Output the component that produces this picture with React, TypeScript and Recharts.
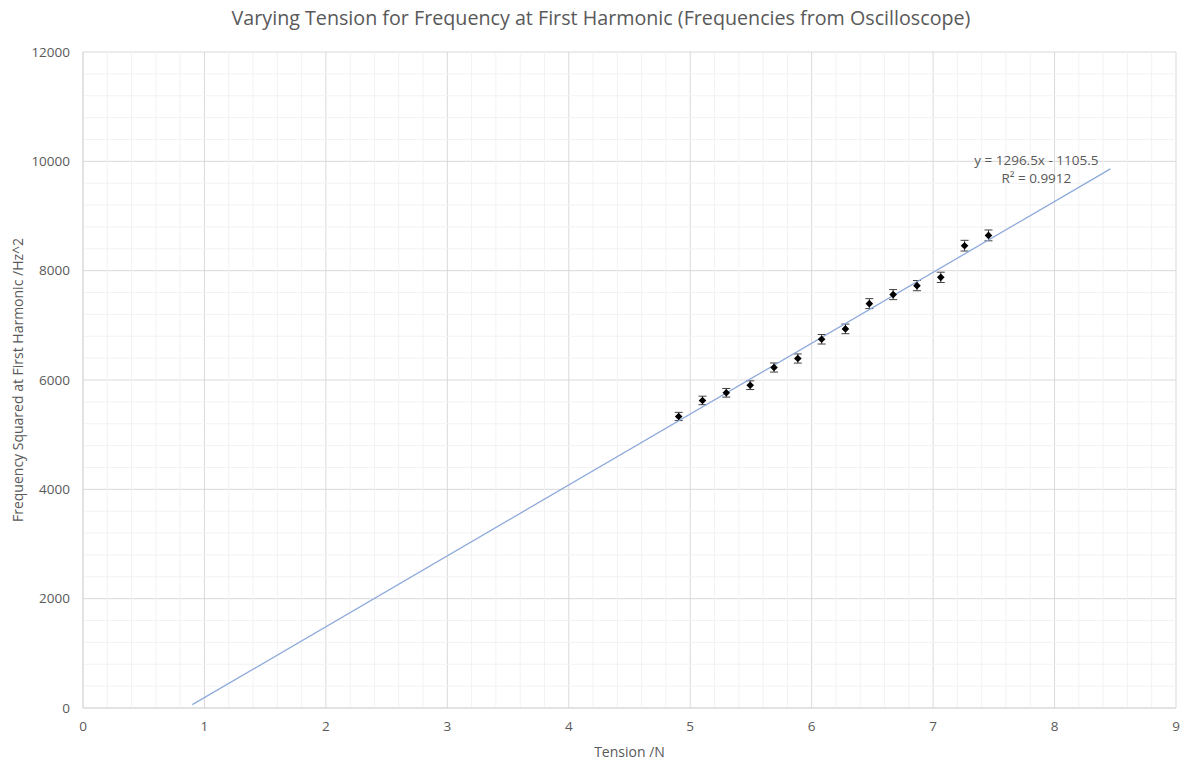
import { ScatterChart, Scatter, XAxis, YAxis, CartesianGrid, ErrorBar, ReferenceLine, ReferenceDot, Label } from 'recharts'

// tension (N) for each hanging mass
const tension = [4.905, 5.101, 5.297, 5.494, 5.690, 5.886, 6.082, 6.278, 6.475, 6.671, 6.867, 7.063, 7.259, 7.456]
// frequency squared at first harmonic (Hz^2)
const freqSquared = [5333, 5626, 5766, 5905, 6228, 6393, 6745, 6935, 7397, 7562, 7726, 7878, 8457, 8645]
// uncertainty on f^2
const freqErr = [75, 78, 79, 80, 83, 84, 87, 88, 91, 92, 93, 94, 98, 99]

// linear trendline endpoints (y = 1296.5x - 1105.5)
const trendX = [0.9, 8.46]
const trendY = [61, 9863]

const xTicks = [0, 1, 2, 3, 4, 5, 6, 7, 8, 9]
const yTicks = [0, 2000, 4000, 6000, 8000, 10000, 12000]

const xMinor = Array.from({ length: 46 }, (_, i) => +(i * 0.2).toFixed(1)).filter((v) => Math.abs(v - Math.round(v)) > 0.01)
const yMinor = Array.from({ length: 31 }, (_, i) => i * 400).filter((v) => v % 2000 !== 0)

const points = tension.map((t, i) => ({ t, f: freqSquared[i], err: freqErr[i] }))
const trend = trendX.map((t, i) => ({ t, f: trendY[i] }))

const FONT = '"Open Sans", "Segoe UI", sans-serif'
const TEXT = '#595959'

function Diamond(props: any) {
    const { cx, cy } = props
    const r = 3.8
    return <polygon points={`${cx},${cy - r} ${cx + r},${cy} ${cx},${cy + r} ${cx - r},${cy}`} fill="#000" />
}

function EquationLabel(props: any) {
    const { cx, cy } = props
    return (
        <text x={cx} y={cy} textAnchor="middle" fontSize={13.5} fill={TEXT} fontFamily={FONT}>
            <tspan x={cx} dy={5}>y = 1296.5x - 1105.5</tspan>
            <tspan x={cx} dy={18}>R² = 0.9912</tspan>
        </text>
    )
}

export default function App() {
    return (
        <div style={{ position: 'absolute', left: 0, top: 0, width: 1186, height: 760, background: '#fff', fontFamily: FONT }}>
            <div style={{ position: 'absolute', top: 4, left: 8, width: 1186, textAlign: 'center', fontSize: 19.7, color: TEXT }}>
                Varying Tension for Frequency at First Harmonic (Frequencies from Oscilloscope)
            </div>
            <ScatterChart width={1186} height={760} margin={{ top: 52, right: 10, bottom: 0, left: 0 }}>
                {xMinor.map((v) => (
                    <ReferenceLine key={'x' + v} x={v} stroke="#f2f2f2" strokeWidth={1} />
                ))}
                {yMinor.map((v) => (
                    <ReferenceLine key={'y' + v} y={v} stroke="#f2f2f2" strokeWidth={1} />
                ))}
                <CartesianGrid stroke="#d9d9d9" strokeWidth={1} />
                <XAxis
                    type="number"
                    dataKey="t"
                    domain={[0, 9]}
                    ticks={xTicks}
                    height={52}
                    tickLine={false}
                    tickMargin={7}
                    axisLine={{ stroke: '#d9d9d9' }}
                    tick={{ fill: TEXT, fontSize: 13.5, fontFamily: FONT }}
                >
                    <Label value="Tension /N" position="insideBottom" offset={3} fill={TEXT} fontSize={14} fontFamily={FONT} />
                </XAxis>
                <YAxis
                    type="number"
                    dataKey="f"
                    domain={[0, 12000]}
                    ticks={yTicks}
                    width={83}
                    tickLine={false}
                    tickMargin={7}
                    axisLine={{ stroke: '#d9d9d9' }}
                    tick={{ fill: TEXT, fontSize: 13.5, fontFamily: FONT }}
                >
                    <Label
                        value="Frequency Squared at First Harmonic /Hz^2"
                        angle={-90}
                        position="insideLeft"
                        offset={18}
                        fill={TEXT}
                        fontSize={14}
                        fontFamily={FONT}
                        style={{ textAnchor: 'middle' }}
                    />
                </YAxis>
                <Scatter
                    data={trend}
                    line={{ stroke: '#8eaadb', strokeWidth: 1.3 }}
                    shape={() => null}
                    isAnimationActive={false}
                />
                <Scatter data={points} shape={<Diamond />} isAnimationActive={false}>
                    <ErrorBar dataKey="err" direction="y" width={4} stroke="#404040" strokeWidth={1} />
                </Scatter>
                <ReferenceDot x={7.85} y={10020} r={0} shape={<EquationLabel />} />
            </ScatterChart>
        </div>
    )
}
